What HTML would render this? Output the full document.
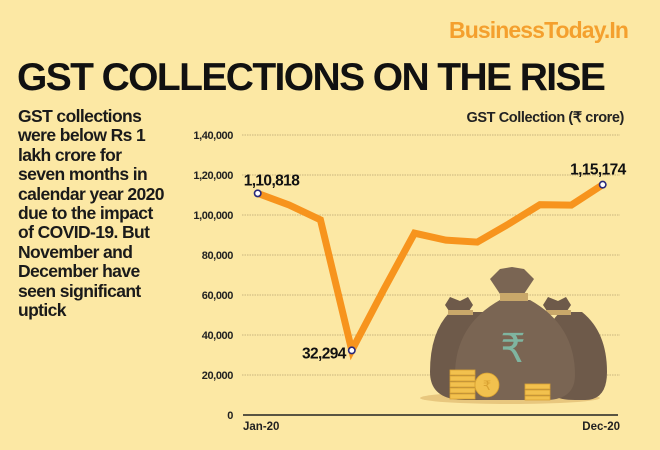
<!DOCTYPE html>
<html><head><meta charset="utf-8"><style>
body{margin:0;width:660px;height:450px;background:#FCE8A4;font-family:"Liberation Sans",sans-serif;overflow:hidden;position:relative}
.abs{position:absolute}
</style></head><body>
<div class="abs" style="left:449px;top:17px;font-size:23px;font-weight:bold;color:#F4A02E;letter-spacing:-0.9px">BusinessToday.In</div>
<div class="abs" style="left:17px;top:56px;font-size:39px;font-weight:bold;color:#111;letter-spacing:-1.6px">GST COLLECTIONS ON THE RISE</div>
<div class="abs" style="left:18px;top:107px;width:185px;font-size:17.5px;line-height:19.4px;font-weight:bold;color:#1a1a1a;letter-spacing:-0.6px">GST collections<br>were below Rs 1<br>lakh crore for<br>seven months in<br>calendar year 2020<br>due to the impact<br>of COVID-19. But<br>November and<br>December have<br>seen significant<br>uptick</div>
<svg class="abs" style="left:0;top:0" width="660" height="450">
<g id="grid"></g>
<g id="bags">
<ellipse cx="510" cy="398" rx="90" ry="6" fill="#E8C77E"/>
<path d="M450 312 q-20 20 -20 60 q0 28 35 28 h30 q30 0 30 -28 q0 -40 -25 -60z" fill="#6E5A4A"/>
<path d="M445 305 l5 -8 l10 4 l8 -4 l5 8 l-4 6 h-20z" fill="#6E5A4A"/>
<rect x="448" y="310" width="25" height="5" fill="#C9A86A"/>
<path d="M560 312 q-20 20 -20 60 q0 28 35 28 h10 q22 0 22 -28 q0 -40 -25 -60z" fill="#6E5A4A"/>
<path d="M543 305 l5 -8 l10 4 l8 -4 l5 8 l-4 6 h-20z" fill="#6E5A4A"/>
<rect x="546" y="310" width="25" height="5" fill="#C9A86A"/>
<path d="M500 300 q-45 25 -45 75 q0 25 30 25 h60 q30 0 30 -25 q0 -50 -45 -75z" fill="#7A6553"/>
<path d="M490 279 l10 -10 l12 -2 l12 2 l10 10 l-12 18 h-20z" fill="#7A6553"/>
<rect x="500" y="293" width="28" height="8" fill="#C9A86A"/>
<text x="513" y="362" font-size="40" fill="#7FB5A0" text-anchor="middle" font-family="DejaVu Sans">₹</text>
<g fill="#F2C14E" stroke="#D9A232" stroke-width="0.8">
<rect x="450" y="370" width="25" height="5"/><rect x="450" y="376" width="25" height="5"/><rect x="450" y="382" width="25" height="5"/><rect x="450" y="388" width="25" height="5"/><rect x="450" y="394" width="25" height="5"/>
<rect x="525" y="384" width="25" height="5"/><rect x="525" y="390" width="25" height="5"/><rect x="525" y="396" width="25" height="4"/>
<circle cx="487" cy="385" r="12"/>
</g>
<text x="487" y="390" font-size="13" fill="#D9A232" text-anchor="middle" font-family="DejaVu Sans">₹</text>
</g>
<g id="axis"></g>
<g id="series"></g>
</svg>
<script>
const months=["Jan-20","Feb-20","Mar-20","Apr-20","May-20","Jun-20","Jul-20","Aug-20","Sep-20","Oct-20","Nov-20","Dec-20"];
const values=[110818,105000,97600,32294,62151,90917,87422,86449,95480,105155,104963,115174];
const yTicks=[0,20000,40000,60000,80000,100000,120000,140000];
const tickLabels=["0","20,000","40,000","60,000","80,000","1,00,000","1,20,000","1,40,000"];
const annotations=[[0,"1,10,818"],[3,"32,294"],[11,"1,15,174"]];
const NS="http://www.w3.org/2000/svg";
const x=i=>257.7+i*(602.7-257.7)/11;
const y=v=>415-v*0.002;
function mk(tag,attrs,parent,text){const e=document.createElementNS(NS,tag);for(const k in attrs)e.setAttribute(k,attrs[k]);if(text!==undefined)e.textContent=text;document.getElementById(parent).appendChild(e);return e;}
yTicks.forEach((t,i)=>{
 if(t>0){const g=mk("line",{x1:242,x2:620,y1:y(t),y2:y(t),stroke:"#C9B57E","stroke-width":1,"stroke-dasharray":"1.5 1"},"grid");
 
 }
 const l=mk("text",{x:233,y:y(t)+4,"text-anchor":"end","font-size":11,"font-weight":"bold",fill:"#222","letter-spacing":"-0.4"},"axis",tickLabels[i]);
 
 
});
const ax=mk("line",{x1:243,x2:618,y1:415,y2:415,stroke:"#222","stroke-width":1.5},"axis");


const xl1=mk("text",{x:243,y:430,"font-size":11.5,"font-weight":"bold",fill:"#222"},"axis",months[0]);


const xl2=mk("text",{x:620,y:430,"text-anchor":"end","font-size":11.5,"font-weight":"bold",fill:"#222"},"axis",months[11]);


const yt=mk("text",{x:624,y:122,"text-anchor":"end","font-size":14.5,"font-weight":"bold",fill:"#222","letter-spacing":"-0.4"},"axis","GST Collection (₹ crore)");


const pl=mk("polyline",{points:values.map((v,i)=>x(i)+","+y(v)).join(" "),fill:"none",stroke:"#F7941D","stroke-width":7,"stroke-linejoin":"miter"},"series");


annotations.forEach(([i,txt])=>{
 const c=mk("circle",{cx:x(i),cy:y(values[i]),r:3.2,fill:"#fff",stroke:"#2A2A7A","stroke-width":1.6},"series");
 
 
 let ax_=x(i),ay=y(values[i]),anc="start";
 if(i===0){ax_=x(i)-14;ay=y(values[i])-8;}
 else if(i===3){ax_=x(i)-6;ay=y(values[i])+8;anc="end";}
 else {ax_=x(i)+23;ay=y(values[i])-10;anc="end";}
 const t=mk("text",{x:ax_,y:ay,"text-anchor":anc,"font-size":15.5,"font-weight":"bold",fill:"#111","letter-spacing":"-0.6"},"series",txt);
 
 
});
</script>
</body></html>
